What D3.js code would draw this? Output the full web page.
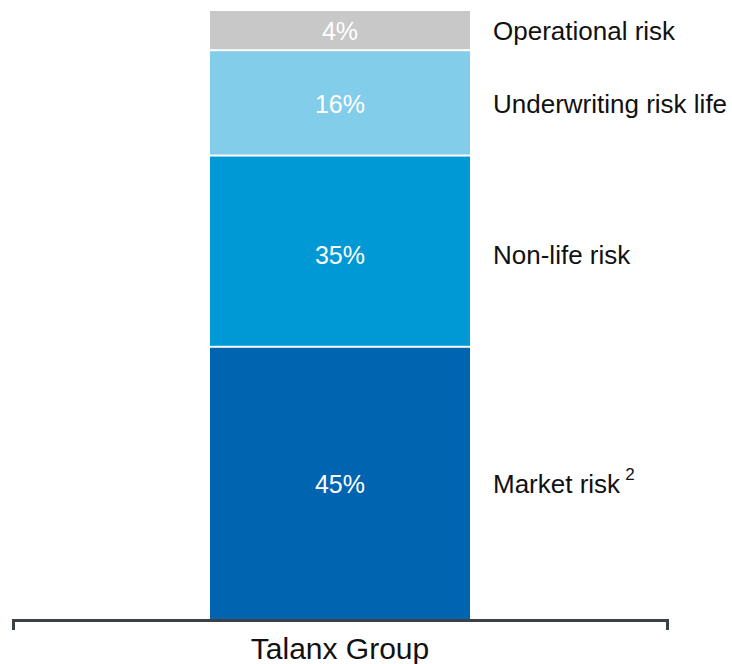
<!DOCTYPE html>
<html>
<head>
<meta charset="utf-8">
<script src="https://cdn.jsdelivr.net/npm/d3@7"></script>
<style>
  html, body { margin: 0; padding: 0; background: #fff; }
  svg { display: block; font-family: "Liberation Sans", Arial, sans-serif; }
</style>
</head>
<body>
<svg id="chart" width="732" height="664"></svg>
<script>
// Data (bottom to top)
const categories = ["Talanx Group"];
const riskNames = ["Market risk", "Non-life risk", "Underwriting risk life", "Operational risk"];
const segmentShares = [44.7, 31.4, 17.3, 6.6];       // drawn segment sizes
const shareLabels = ["45%", "35%", "16%", "4%"];     // printed labels
const footnotes = ["2", "", "", ""];
const colors = ["#0064b1", "#0099d6", "#82cdea", "#c8c8c8"];

const svg = d3.select("#chart");

const x = d3.scaleBand()
  .domain(categories)
  .range([13, 667])
  .paddingInner(0)
  .paddingOuter(0.7577);

const y = d3.scaleLinear()
  .domain([0, 100])
  .range([619, 10]);

// stack
let cum = 0;
const segs = segmentShares.map((v, i) => {
  const s = { start: cum, end: cum + v, i };
  cum += v;
  return s;
});

const bx = x(categories[0]);
const bw = x.bandwidth();

svg.append("g").selectAll("rect")
  .data(segs)
  .join("rect")
  .attr("x", bx)
  .attr("width", bw)
  .attr("y", d => y(d.end) + 1)
  .attr("height", d => y(d.start) - y(d.end) - (d.i === 0 ? 1 : 2))
  .attr("fill", d => colors[d.i]);

// percent labels
svg.append("g").selectAll("text")
  .data(segs)
  .join("text")
  .attr("x", bx + bw / 2)
  .attr("y", d => (y(d.start) + y(d.end)) / 2 + (d.i === 1 ? 4 : 1))
  .attr("text-anchor", "middle")
  .attr("dominant-baseline", "central")
  .attr("fill", "#fff")
  .style("font-size", "25px")
  .text(d => shareLabels[d.i]);

// risk names on the right
const nameG = svg.append("g").selectAll("text")
  .data(segs)
  .join("text")
  .attr("x", 493)
  .attr("y", d => (y(d.start) + y(d.end)) / 2 + (d.i === 1 ? 4 : 1))
  .attr("dominant-baseline", "central")
  .attr("fill", "#111")
  .style("font-size", "26px");
nameG.append("tspan").text(d => riskNames[d.i]);
nameG.filter(d => footnotes[d.i])
  .append("tspan")
  .attr("dx", 5)
  .attr("dy", -10)
  .style("font-size", "17px")
  .text(d => footnotes[d.i]);

// axis (bracket)
const axis = d3.axisBottom(x).tickSizeInner(0).tickSizeOuter(10).tickPadding(18);
const ag = svg.append("g").attr("transform", "translate(0,620)").call(axis);
ag.select(".domain").attr("stroke", "#3c4147").attr("stroke-width", 3);
ag.selectAll(".tick line").remove();
ag.selectAll(".tick text")
  .attr("fill", "#111")
  .style("font-size", "30px")
  .style("font-family", "'Liberation Sans', Arial, sans-serif");
</script>
</body>
</html>
